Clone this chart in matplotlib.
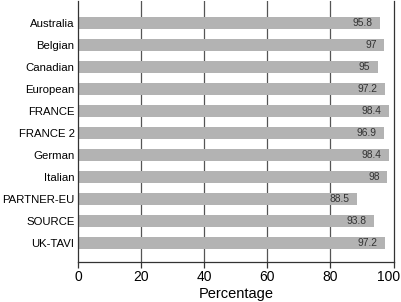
import matplotlib
matplotlib.use('Agg')
from matplotlib import pyplot as plt
from matplotlib import transforms

registries = ['Australia', 'Belgian', 'Canadian', 'European', 'FRANCE', 'FRANCE 2',
              'German', 'Italian', 'PARTNER-EU', 'SOURCE', 'UK-TAVI']
percentages = [95.8, 97, 95, 97.2, 98.4, 96.9, 98.4, 98, 88.5, 93.8, 97.2]
value_labels = ['95.8', '97', '95', '97.2', '98.4', '96.9', '98.4', '98', '88.5', '93.8', '97.2']
x_ticks = [0, 20, 40, 60, 80, 100]

plt.rcParams['font.family'] = ['Liberation Sans', 'DejaVu Sans']

fig = plt.figure(figsize=(4.02, 3.02), dpi=100)
ax = fig.add_axes([0.194, 0.132, 0.785, 0.865])

pos = list(range(len(registries)))
ax.barh(pos, percentages, height=0.57, color='#b3b3b3', zorder=2)
for p, v, lab in zip(pos, percentages, value_labels):
    ax.text(v - 2.4, p, lab, ha='right', va='center', fontsize=7.4, color='#333333', zorder=3)

# vertical grid lines
for t in x_ticks[1:-1]:
    ax.axvline(t, color='#555555', linewidth=0.9, zorder=1)

ax.set_xlim(0, 100)
ax.set_ylim(10.88, -1)
ax.set_yticks(pos)
ax.set_yticklabels(registries, fontsize=8.2)
ax.tick_params(axis='y', length=0, pad=2.5)
ax.set_xticks(x_ticks)
ax.set_xticklabels([str(t) for t in x_ticks], fontsize=10)
ax.tick_params(axis='x', length=4, width=0.9, color='#333333', pad=2)
ax.set_xlabel('Percentage', fontsize=10.5, labelpad=2)

# nudge the last tick label so it stays inside the picture
last = ax.get_xticklabels()[-1]
last.set_transform(last.get_transform() + transforms.ScaledTranslation(-5 / 100, 0, fig.dpi_scale_trans))

for s in ['left', 'right', 'bottom']:
    ax.spines[s].set_color('#333333')
    ax.spines[s].set_linewidth(0.9)
ax.spines['top'].set_visible(False)

fig.savefig('out.png', dpi=100)
